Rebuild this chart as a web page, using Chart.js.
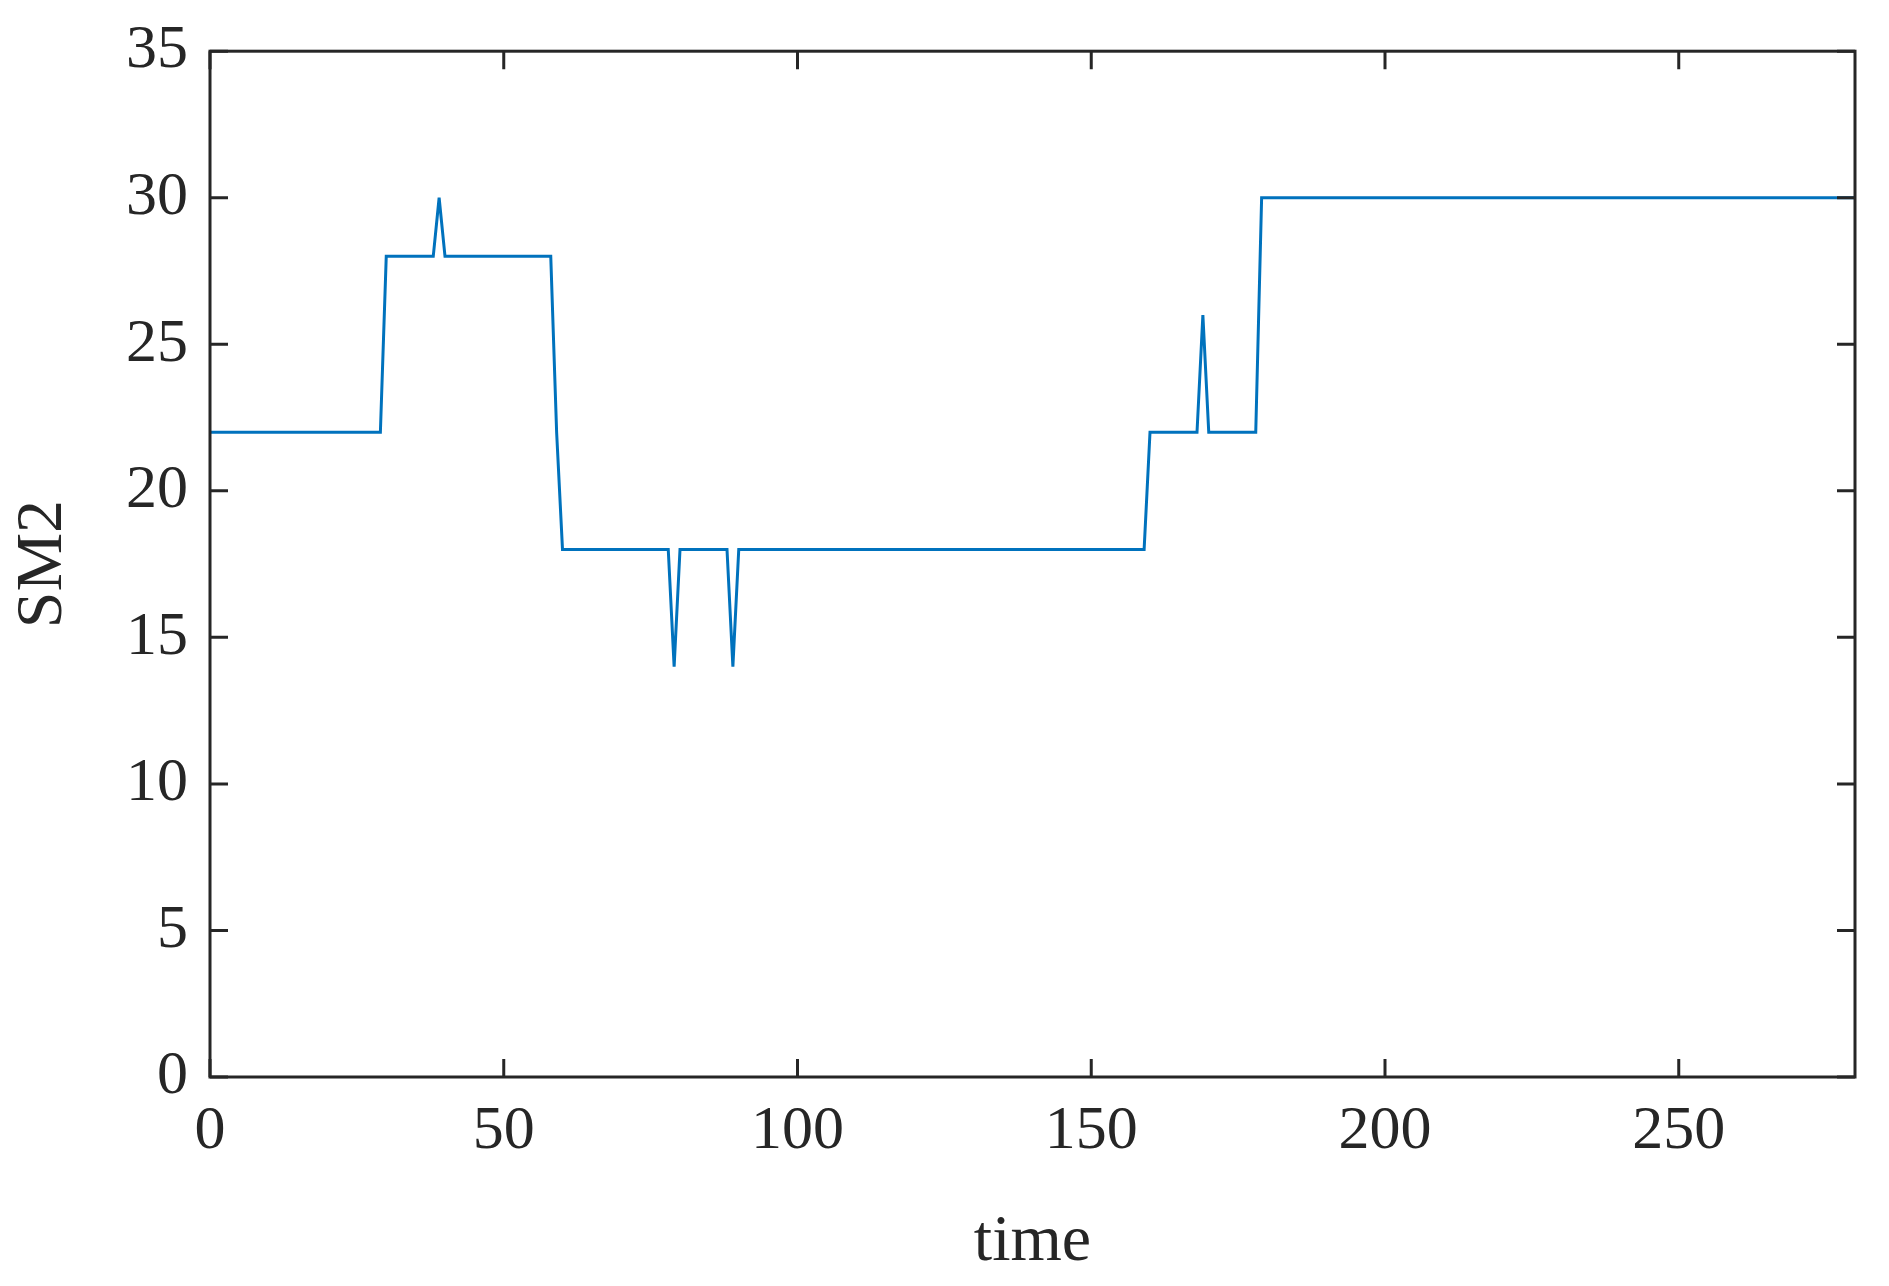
<!DOCTYPE html>
<html>
<head>
<meta charset="utf-8">
<script src="https://cdn.jsdelivr.net/npm/chart.js@4"></script>
<style>
  html, body { margin: 0; padding: 0; background: #fff; }
  #wrap { width: 1889px; height: 1286px; }
</style>
</head>
<body>
<div id="wrap"><canvas id="sm2Chart"></canvas></div>
<script>
// breakpoints of the step signal
var time = [0, 29, 30, 38, 39, 40, 58, 59, 60, 78, 79, 80, 88, 89, 90, 159, 160, 168, 169, 170, 178, 179, 280];
var sm2 = [22, 22, 28, 28, 30, 28, 28, 22, 18, 18, 14, 18, 18, 14, 18, 18, 22, 22, 26, 22, 22, 30, 30];
var xTicks = [0, 50, 100, 150, 200, 250];
var yTicks = [0, 5, 10, 15, 20, 25, 30, 35];

var fontFamily = '"Liberation Serif", "Times New Roman", serif';
var axisColor = '#262626';

/* frame with inward ticks on all four sides */
var framePlugin = {
    id: 'frame',
    afterDraw: function(chart) {
        var ctx = chart.ctx, a = chart.chartArea;
        var xs = chart.scales.x, ys = chart.scales.y;
        var len = 18;
        ctx.save();
        ctx.strokeStyle = axisColor;
        ctx.lineWidth = 3;
        ctx.strokeRect(a.left, a.top, a.right - a.left, a.bottom - a.top);
        ctx.beginPath();
        xTicks.forEach(function(v) {
            var px = xs.getPixelForValue(v);
            ctx.moveTo(px, a.bottom); ctx.lineTo(px, a.bottom - len);
            ctx.moveTo(px, a.top); ctx.lineTo(px, a.top + len);
        });
        yTicks.forEach(function(v) {
            var py = ys.getPixelForValue(v);
            ctx.moveTo(a.left, py); ctx.lineTo(a.left + len, py);
            ctx.moveTo(a.right, py); ctx.lineTo(a.right - len, py);
        });
        ctx.stroke();
        ctx.restore();
    }
};

new Chart(document.getElementById('sm2Chart'), {
    type: 'line',
    data: {
        datasets: [{
            data: time.map(function(t, i) { return { x: t, y: sm2[i] }; }),
            borderColor: '#0072BD',
            borderWidth: 3,
            pointRadius: 0,
            tension: 0,
            fill: false
        }]
    },
    options: {
        responsive: true,
        maintainAspectRatio: false,
        animation: false,
        layout: { padding: { top: 50, right: 34, left: 0, bottom: 0 } },
        plugins: { legend: { display: false }, tooltip: { enabled: false } },
        scales: {
            x: {
                type: 'linear', min: 0, max: 280,
                afterBuildTicks: function(s) { s.ticks = xTicks.map(function(v) { return { value: v }; }); },
                afterFit: function(s) { s.height = 209; },
                grid: { display: false },
                border: { display: false },
                ticks: { color: axisColor, font: { family: fontFamily, size: 62 }, padding: 10, maxRotation: 0 },
                title: { display: true, text: 'time', color: axisColor, font: { family: fontFamily, size: 66 }, padding: { top: 0 } }
            },
            y: {
                min: 0, max: 35,
                afterBuildTicks: function(s) { s.ticks = yTicks.map(function(v) { return { value: v }; }); },
                afterFit: function(s) { s.width = 210; },
                grid: { display: false },
                border: { display: false },
                ticks: { color: axisColor, font: { family: fontFamily, size: 62 }, padding: 14 },
                title: { display: true, text: 'SM2', color: axisColor, font: { family: fontFamily, size: 66 }, padding: { bottom: 0 } }
            }
        }
    },
    plugins: [framePlugin]
});
</script>
</body>
</html>
